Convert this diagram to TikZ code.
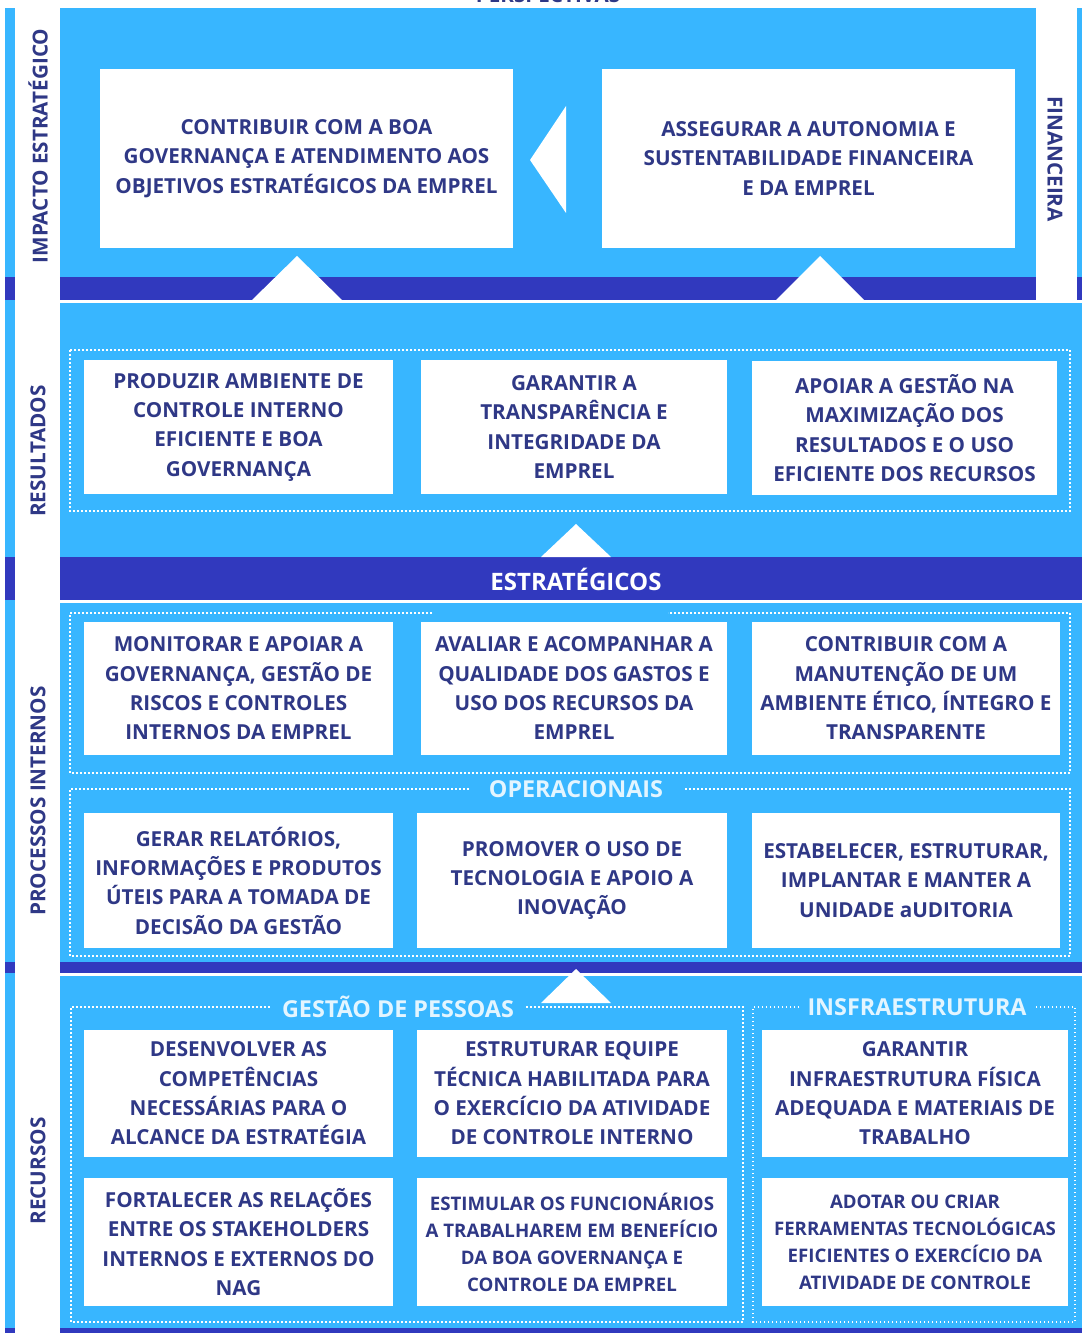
\documentclass[tikz,border=0pt]{standalone}
\usepackage{fontspec}
\setmainfont{Open Sans}
\definecolor{panel}{HTML}{38B6FF}
\definecolor{band}{HTML}{3139BE}
\definecolor{ink}{HTML}{2F3886}
\definecolor{pale}{HTML}{E3F5FF}
\begin{document}
\begin{tikzpicture}[x=0.75pt, y=-0.75pt,
    goal/.style={fill=white, text=ink, align=center, inner sep=0pt,
      font=\bfseries\fontsize{15.5}{22}\selectfont},
    small/.style={font=\bfseries\fontsize{14}{20.25}\selectfont},
    wh/.style 2 args={minimum width=#1*0.75pt, minimum height=#2*0.75pt},
    side/.style={text=ink, font=\bfseries\fontsize{15.5}{18}\selectfont},
    head/.style={text=pale, fill=panel, inner xsep=9pt, inner ysep=1pt,
      font=\bfseries\fontsize{17.5}{20}\selectfont},
    dots/.style={draw=white, line width=1.2pt, dash pattern=on 1.2pt off 1.8pt}]
  \useasboundingbox (0,0) rectangle (1082,1333);
  \fill[white] (0,0) rectangle (1082,1333);
  % stribe i venstre side, afbrudt af de mørke bånd
  \fill[panel] (5,8) rectangle (15,1333);
  \foreach \a/\b in {277/300, 557/600, 962/973, 1328/1333}
    \fill[band] (5,\a) rectangle (15,\b);
  \fill[panel] (1077,8) rectangle (1082,277);
  \fill[band] (1077,277) rectangle (1082,300);
  % de fire lag
  \fill[panel] (60,8) rectangle (1036,277);
  \fill[band] (60,277) rectangle (1036,300);
  \fill[panel] (60,303) rectangle (1082,557);
  \fill[band] (60,557) rectangle (1082,600);
  \fill[panel] (60,603) rectangle (1082,962);
  \fill[band] (60,962) rectangle (1082,973);
  \fill[panel] (60,976) rectangle (1082,1328);
  \fill[band] (60,1328) rectangle (1082,1333);
  % trekanter mellem lagene
  \fill[white] (297,256) -- (342,300) -- (252,300) -- cycle;
  \fill[white] (820,256) -- (864,300) -- (776,300) -- cycle;
  \fill[white] (530,160) -- (566,106) -- (566,213) -- cycle;
  \fill[white] (576,524) -- (611,557) -- (541,557) -- cycle;
  \fill[white] (576,969) -- (611,1003) -- (541,1003) -- cycle;

  \node[side, anchor=base] (persp) at (548,3) {PERSPECTIVAS};
  \node[side, rotate=90] (impacto) at (38,146) {IMPACTO ESTRATÉGICO};
  \node[side, rotate=90] (result) at (38,451) {RESULTADOS};
  \node[side, rotate=90] (proc) at (38,801) {PROCESSOS INTERNOS};
  \node[side, rotate=90] (recur) at (38,1171) {RECURSOS};
  \node[side, rotate=-90] (fin) at (1055,159) {FINANCEIRA};

  % impacto estrategico
  \node[goal, wh={413}{179}] (gov) at (306.5,158.5)
    {CONTRIBUIR COM A BOA\\GOVERNANÇA E ATENDIMENTO AOS\\OBJETIVOS ESTRATÉGICOS DA EMPREL};
  \node[goal, wh={413}{179}] (auto) at (808.5,158.5)
    {ASSEGURAR A AUTONOMIA E\\SUSTENTABILIDADE FINANCEIRA\\E DA EMPREL};

  % resultados
  \draw[dots] (70,350) rectangle (1070,511);
  \node[goal, wh={309}{134}] (amb) at (238.5,427)
    {PRODUZIR AMBIENTE DE\\CONTROLE INTERNO\\EFICIENTE E BOA\\GOVERNANÇA};
  \node[goal, wh={306}{134}] (transp) at (574,427)
    {GARANTIR A\\TRANSPARÊNCIA E\\INTEGRIDADE DA\\EMPREL};
  \node[goal, wh={305}{133}] (maxi) at (904.5,428)
    {APOIAR A GESTÃO NA\\MAXIMIZAÇÃO DOS\\RESULTADOS E O USO\\EFICIENTE DOS RECURSOS};

  \node[font=\bfseries\fontsize{18}{20}\selectfont, text=white] (estr) at (576,579) {ESTRATÉGICOS};

  % processos internos
  \draw[dots] (432,613) -- (70,613) -- (70,773) -- (1070,773) -- (1070,613) -- (668,613);
  \node[goal, wh={309}{133}] (monit) at (238.5,688.5)
    {MONITORAR E APOIAR A\\GOVERNANÇA, GESTÃO DE\\RISCOS E CONTROLES\\INTERNOS DA EMPREL};
  \node[goal, wh={306}{133}] (aval) at (574,688.5)
    {AVALIAR E ACOMPANHAR A\\QUALIDADE DOS GASTOS E\\USO DOS RECURSOS DA\\EMPREL};
  \node[goal, wh={308}{133}] (etico) at (906,688.5)
    {CONTRIBUIR COM A\\MANUTENÇÃO DE UM\\AMBIENTE ÉTICO, ÍNTEGRO E\\TRANSPARENTE};

  \node[head, inner xsep=15pt] (oper) at (576,789) {OPERACIONAIS};
  \draw[dots] (oper.west) -- (70,789) -- (70,956) -- (1070,956) -- (1070,789) -- (oper.east);
  \node[goal, wh={309}{135}] (relat) at (238.5,880.5)
    {GERAR RELATÓRIOS,\\INFORMAÇÕES E PRODUTOS\\ÚTEIS PARA A TOMADA DE\\DECISÃO DA GESTÃO};
  \node[goal, wh={310}{135}] (tecno) at (572,880.5)
    {PROMOVER O USO DE\\TECNOLOGIA E APOIO A\\INOVAÇÃO};
  \node[goal, wh={308}{135}] (audit) at (906,880.5)
    {ESTABELECER, ESTRUTURAR,\\IMPLANTAR E MANTER A\\UNIDADE aUDITORIA};

  % recursos
  \node[head] (pessoas) at (398,1007) {GESTÃO DE PESSOAS};
  \draw[dots] (pessoas.west) -- (71,1007) -- (71,1322) -- (743,1322) -- (743,1007) -- (pessoas.east);
  \node[head, inner xsep=6pt] (infra) at (917,1007) {INSFRAESTRUTURA};
  \draw[dots] (infra.west) -- (753,1007) -- (753,1322) -- (1075,1322) -- (1075,1007) -- (infra.east);

  \node[goal, wh={309}{127}] (compet) at (238.5,1093.5)
    {DESENVOLVER AS\\COMPETÊNCIAS\\NECESSÁRIAS PARA O\\ALCANCE DA ESTRATÉGIA};
  \node[goal, wh={310}{127}] (equipe) at (572,1093.5)
    {ESTRUTURAR EQUIPE\\TÉCNICA HABILITADA PARA\\O EXERCÍCIO DA ATIVIDADE\\DE CONTROLE INTERNO};
  \node[goal, wh={306}{127}] (fisica) at (915,1093.5)
    {GARANTIR\\INFRAESTRUTURA FÍSICA\\ADEQUADA E MATERIAIS DE\\TRABALHO};
  \node[goal, wh={309}{128}] (stake) at (238.5,1242)
    {FORTALECER AS RELAÇÕES\\ENTRE OS STAKEHOLDERS\\INTERNOS E EXTERNOS DO\\NAG};
  \node[goal, small, wh={310}{128}] (funcio) at (572,1242)
    {ESTIMULAR OS FUNCIONÁRIOS\\A TRABALHAREM EM BENEFÍCIO\\DA BOA GOVERNANÇA E\\CONTROLE DA EMPREL};
  \node[goal, small, wh={306}{128}] (ferram) at (915,1242)
    {ADOTAR OU CRIAR\\FERRAMENTAS TECNOLÓGICAS\\EFICIENTES O EXERCÍCIO DA\\ATIVIDADE DE CONTROLE};
\end{tikzpicture}
\end{document}
